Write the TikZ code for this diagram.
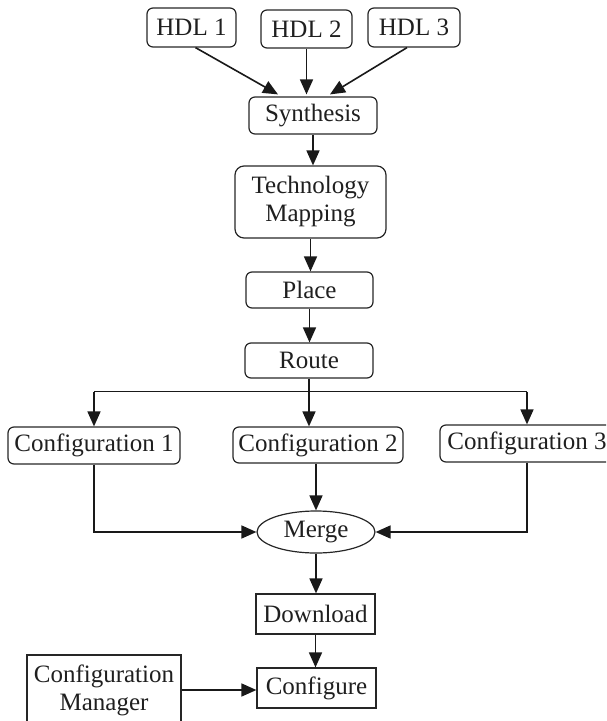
\documentclass[tikz,border=0pt]{standalone}
\usepackage{fontspec}
\setmainfont{Liberation Serif}
\usetikzlibrary{arrows.meta,shapes.geometric}

\tikzset{
  lbl/.style={font=\fontsize{25}{28}\selectfont, text=black!88, inner sep=0pt, align=center},
  rbox/.style={lbl, draw=black!85, line width=1.2pt, rounded corners=6pt, rectangle},
  sbox/.style={lbl, draw=black!85, line width=1.2pt, rectangle},
  oval/.style={lbl, draw=black!85, line width=1.2pt, ellipse},
  arr/.style={line width=1.6pt, draw=black!90, -{Triangle[length=15pt,width=13pt]}},
  thin line/.style={line width=1pt, draw=black!90}
}

\begin{document}
\begin{tikzpicture}[x=1pt, y=-1pt]
  \useasboundingbox (0,0) rectangle (606,721);
  \begin{scope}
  \clip (0,0) rectangle (606,721);

  % sources
  \node[rbox, minimum width=89pt, minimum height=39pt] (h1) at (191.5,27.5) {HDL 1};
  \node[rbox, minimum width=91pt, minimum height=38pt] (h2) at (306.5,29) {HDL 2};
  \node[rbox, minimum width=92pt, minimum height=39pt] (h3) at (414,27.5) {HDL 3};

  % tool flow
  \node[rbox, minimum width=128pt, minimum height=37pt] (syn) at (313,115.5) {Synthesis};
  \node[rbox, minimum width=151pt, minimum height=72pt, rounded corners=9pt] (tm) at (310.5,202) {Technology\\Mapping};
  \node[rbox, minimum width=127pt, minimum height=36pt] (place) at (309.5,290) {Place};
  \node[rbox, minimum width=128pt, minimum height=35pt] (route) at (309,360.5) {Route};

  % configurations
  \node[rbox, minimum width=172pt, minimum height=37pt] (c1) at (94,445.5) {Configuration 1};
  \node[rbox, minimum width=170pt, minimum height=36pt] (c2) at (318,445) {Configuration 2};
  \node[rbox, minimum width=174pt, minimum height=37pt] (c3) at (527,443.5) {Configuration 3};

  \node[oval, minimum width=118pt, minimum height=42pt] (merge) at (316,532) {Merge};
  \node[sbox, minimum width=119pt, minimum height=40pt] (dl) at (315.5,614) {Download};
  \node[sbox, minimum width=119pt, minimum height=40pt] (cfg) at (316.5,688) {Configure};
  \node[sbox, minimum width=154pt, minimum height=70pt] (mgr) at (104,690) {Configuration\\Manager};

  % HDL inputs into synthesis
  \draw[arr] ([xshift=4pt]h1.south) -- ([xshift=-35pt,yshift=2pt]syn.north);
  \draw[arr] (h2.south) -- ([yshift=2pt]h2.south |- syn.north);
  \draw[arr] ([xshift=-7pt]h3.south) -- ([xshift=17pt,yshift=2pt]syn.north);

  % main chain
  \draw[arr] (syn.south) -- (syn.south |- tm.north);
  \draw[arr] (tm.south) -- (tm.south |- place.north);
  \draw[arr] (place.south) -- (place.south |- route.north);

  % fan-out to configurations
  \path (route.south) ++(0,13) coordinate (split);
  \draw[thin line] (c1.north |- split) -- (c3.north |- split);
  \draw[arr] (c1.north |- split) -- (c1.north);
  \draw[arr] (c3.north |- split) -- (c3.north);
  \draw[arr] (route.south) -- (route.south |- c2.north);

  % fan-in to merge
  \draw[arr] (c1.south) |- (merge.west);
  \draw[arr] (c3.south) |- (merge.east);
  \draw[arr] (merge.north |- c2.south) -- (merge.north);

  % download and configure
  \draw[arr] (merge.south) -- (merge.south |- dl.north);
  \draw[arr] (dl.south) -- (dl.south |- cfg.north);
  \draw[arr] (mgr.east) -- (mgr.east -| cfg.west);
  \end{scope}
\end{tikzpicture}
\end{document}
